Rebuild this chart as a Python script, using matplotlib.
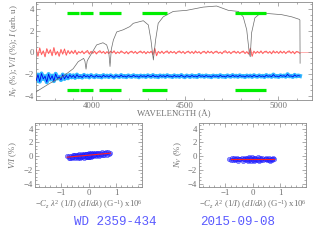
import numpy as np
import matplotlib
matplotlib.use("Agg")
import matplotlib.pyplot as plt
from matplotlib.ticker import MultipleLocator

plt.rcParams['font.family'] = ['Liberation Serif', 'DejaVu Serif']
plt.rcParams['mathtext.fontset'] = 'custom'
plt.rcParams['mathtext.rm'] = 'Liberation Serif'
plt.rcParams['mathtext.it'] = 'Liberation Serif:italic'

# ---------------- data ----------------
# intensity spectrum (arb. units)
spec_wl = [3694, 3774, 3846, 3899, 3926, 3955, 3962, 3968, 3974, 3980, 4025, 4059, 4079,
           4090, 4097, 4104, 4115, 4133, 4168, 4204, 4222, 4276, 4303, 4317, 4330, 4342,
           4356, 4383, 4437, 4509, 4598, 4670, 4733, 4787, 4813, 4832, 4846, 4851, 4858,
           4876, 4903, 4948, 5020, 5074, 5114, 5118, 5119]
spec_i = [-3.7, -2.85, -2.2, -1.5, -0.85, -0.55, -0.8, -1.55, -0.8, -0.6, 0.7, 0.9, 0.7,
          0.1, -1.3, 0.3, 1.15, 1.9, 2.1, 2.4, 2.7, 2.94, 2.55, 1.15, -0.7, 1.15,
          2.7, 3.3, 3.8, 3.9, 4.2, 4.3, 3.9, 3.8, 3.3, 2.1, -0.1, -0.4, 1.8,
          3.2, 3.6, 3.6, 3.5, 3.3, 3.07, 3.0, -1.0]

pol_wl_range = (3700, 5118)
# V/I (%)
vi = [0.30, -0.35, 0.42, -0.20, 0.15, -0.40, 0.35, -0.10, 0.25, -0.30, 0.45, -0.22, 0.10, -0.35, 0.28, -0.15, 0.32, -0.25, 0.18, -0.12,
      0.15, -0.10, 0.20, -0.18, 0.08, -0.05, 0.14, -0.12, 0.06, 0.18, -0.15, 0.10, -0.08, 0.12, -0.14, 0.05, 0.16, -0.06, 0.10, -0.12,
      0.08, -0.10, 0.12, -0.04, 0.15, -0.12, 0.06, -0.08, 0.14, 0.02, -0.10, 0.09, -0.13, 0.05, 0.12, -0.07, 0.10, -0.11, 0.04, 0.13,
      -0.06, 0.10, -0.12, 0.08, -0.05, 0.12, -0.20, 0.38, -0.30, 0.10, -0.08, 0.12, -0.10, 0.06, 0.14, -0.09, 0.11, -0.04, 0.09, -0.12,
      0.07, 0.13, -0.06, 0.10, -0.11, 0.05, 0.12, -0.08, 0.09, -0.10, 0.14, -0.05, 0.08, -0.12, 0.06, 0.11, -0.09, 0.13, -0.04, 0.10,
      -0.10, 0.07, 0.12, -0.08, 0.05, -0.12, 0.10, 0.15, -0.06, 0.09, -0.11, 0.06, 0.12, -0.07, 0.10, -0.09, 0.05, 0.13, -0.10, 0.08,
      -0.15, 0.40, -0.35, 0.12, -0.08, 0.10, -0.06, 0.14, -0.10, 0.08, 0.12, -0.07, 0.09, -0.12, 0.15, -0.05, 0.10, -0.09, 0.13, -0.06,
      0.11, -0.10, 0.08, 0.14, -0.07, 0.10, -0.12, 0.09, 0.05, -0.08]
# N_V (%) (plotted with offset)
nv = [-2.60, -2.05, -2.70, -1.95, -2.45, -2.20, -2.75, -2.00, -2.50, -2.15, -2.65, -1.98, -2.40, -2.25, -2.55, -2.05, -2.45, -2.12, -2.38, -2.08,
      -2.30, -2.12, -2.35, -2.05, -2.28, -2.18, -2.32, -2.08, -2.25, -2.15, -2.30, -2.10, -2.22, -2.28, -2.12, -2.25, -2.18, -2.30, -2.10, -2.24,
      -2.15, -2.27, -2.12, -2.22, -2.30, -2.14, -2.20, -2.26, -2.10, -2.24, -2.18, -2.28, -2.13, -2.21, -2.25, -2.11, -2.23, -2.17, -2.29, -2.14,
      -2.22, -2.16, -2.27, -2.12, -2.20, -2.25, -2.10, -2.24, -2.18, -2.28, -2.13, -2.22, -2.15, -2.26, -2.11, -2.21, -2.19, -2.27, -2.12, -2.23,
      -2.17, -2.25, -2.10, -2.22, -2.28, -2.14, -2.20, -2.26, -2.12, -2.23, -2.18, -2.27, -2.09, -2.21, -2.16, -2.25, -2.13, -2.22, -2.19, -2.28,
      -2.14, -2.21, -2.17, -2.26, -2.11, -2.23, -2.19, -2.27, -2.13, -2.20, -2.24, -2.10, -2.22, -2.16, -2.25, -2.12, -2.21, -2.18, -2.27, -2.14,
      -2.22, -2.15, -2.26, -2.11, -2.20, -2.24, -2.13, -2.22, -2.17, -2.27, -2.10, -2.21, -2.16, -2.25, -2.05, -2.22, -2.18, -2.26, -2.12, -2.20,
      -2.15, -2.24, -2.02, -2.20, -2.17, -2.26, -2.08, -2.21, -2.14, -2.18]

# Balmer line windows used for the fit (Å)
win_start = [3864, 3937, 4038, 4267, 4769]
win_end = [3928, 4007, 4154, 4405, 4934]
win_top_level = 3.7
win_bot_level = -3.5

# regression scatter: V/I vs derivative
vx = [-0.78, -0.72, -0.70, -0.66, -0.62, -0.60, -0.57, -0.55, -0.52, -0.50, -0.48, -0.45, -0.43, -0.40, -0.38, -0.36,
      -0.33, -0.31, -0.29, -0.27, -0.25, -0.22, -0.20, -0.18, -0.16, -0.14, -0.12, -0.10, -0.08, -0.06, -0.05, -0.03,
      -0.02, 0.00, 0.01, 0.03, 0.04, 0.06, 0.08, 0.10, 0.12, 0.14, 0.16, 0.18, 0.20, 0.22, 0.25, 0.27, 0.30, 0.33,
      0.36, 0.39, 0.42, 0.45, 0.48, 0.52, 0.55, 0.58, 0.62, 0.66, 0.70, 0.74, 0.78,
      -0.25, -0.15, -0.05, 0.05, 0.15, 0.25, -0.35, 0.35, -0.10, 0.10, -0.20, 0.20, 0.00, -0.45, 0.45, 0.60, -0.60]
vy = [-0.05, -0.30, -0.02, -0.25, 0.05, -0.28, 0.08, -0.20, 0.12, -0.30, 0.15, -0.15, 0.20, -0.25, 0.10, -0.08,
      0.25, -0.22, 0.18, -0.10, 0.28, -0.18, 0.12, -0.25, 0.30, -0.05, 0.22, -0.15, 0.35, -0.12, 0.25, -0.20,
      0.32, -0.08, 0.40, -0.15, 0.28, 0.00, 0.38, -0.10, 0.30, 0.02, 0.42, -0.05, 0.35, 0.08, 0.45, 0.00, 0.40, 0.10,
      0.48, 0.05, 0.45, 0.15, 0.52, 0.12, 0.50, 0.20, 0.55, 0.22, 0.58, 0.28, 0.50,
      0.05, 0.15, 0.00, 0.20, 0.10, 0.30, 0.00, 0.30, 0.30, 0.25, -0.05, 0.15, 0.20, -0.05, 0.35, 0.40, -0.10]
v_fit_slope = 0.37
v_fit_intercept = 0.12

# regression scatter: N_V vs derivative
nx = [-0.85, -0.80, -0.76, -0.72, -0.68, -0.64, -0.60, -0.56, -0.52, -0.48, -0.44, -0.40, -0.36, -0.32, -0.28,
      -0.24, -0.20, -0.17, -0.14, -0.11, -0.08, -0.05, -0.02, 0.01, 0.04, 0.07, 0.10, 0.13, 0.16, 0.20, 0.24,
      0.28, 0.32, 0.36, 0.40, 0.44, 0.48, 0.52, 0.56, 0.60, 0.64, 0.68, 0.72, 0.76, 0.80,
      -0.30, -0.10, 0.00, 0.10, 0.30, -0.50, 0.50, -0.20, 0.20, 0.60, -0.65, 0.70]
ny = [-0.40, -0.55, -0.35, -0.62, -0.30, -0.58, -0.42, -0.25, -0.65, -0.38, -0.50, -0.22, -0.70, -0.45, -0.28,
      -0.60, -0.35, -0.72, -0.20, -0.55, -0.40, -0.68, -0.18, -0.50, -0.30, -0.75, -0.25, -0.60, -0.42, -0.20, -0.66,
      -0.35, -0.55, -0.28, -0.62, -0.40, -0.25, -0.58, -0.45, -0.30, -0.65, -0.38, -0.52, -0.32, -0.48,
      -0.45, -0.35, -0.60, -0.45, -0.42, -0.48, -0.40, -0.50, -0.55, -0.55, -0.50, -0.45]
n_fit_slope = 0.0
n_fit_intercept = -0.45
fit_x_range = (-0.78, 0.80)

star_name = "WD 2359-434"
obs_date = "2015-09-08"

# ---------------- styling ----------------
W, H = 314, 240
axc = '#8a8a8a'
txc = '#707070'
fs = 6.3

fig = plt.figure(figsize=(W / 100, H / 100), dpi=100)


def px_axes(l, t, r, b):
    return fig.add_axes([l / W, 1 - b / H, (r - l) / W, (b - t) / H])


def style(ax, xmaj, xmin, ymaj, ymin):
    for s in ax.spines.values():
        s.set_color(axc)
        s.set_linewidth(0.6)
    ax.xaxis.set_major_locator(MultipleLocator(xmaj))
    ax.xaxis.set_minor_locator(MultipleLocator(xmin))
    ax.yaxis.set_major_locator(MultipleLocator(ymaj))
    ax.yaxis.set_minor_locator(MultipleLocator(ymin))
    ax.tick_params(which='both', direction='in', top=True, right=True, color=axc,
                   width=0.5, labelsize=fs, labelcolor=txc, pad=1.5)
    ax.tick_params(which='major', length=2.6)
    ax.tick_params(which='minor', length=1.3)


# top panel
ax = px_axes(36, 1.7, 312, 100)
wl = np.linspace(pol_wl_range[0], pol_wl_range[1], len(vi))
ax.axhline(0, color='#ff9090', lw=0.5, zorder=1)
ax.plot(wl, vi, color='#ffb8b8', lw=0.9, zorder=2)
ax.plot(wl, vi, color='#ff4848', lw=0.45, zorder=3)
ax.plot(wl, nv, color='#30b8ff', lw=3.0, zorder=2)
ax.plot(wl, nv, color='#0000ee', lw=0.6, zorder=3)
ax.plot(spec_wl, spec_i, color='#6a6a6a', lw=0.5, zorder=4)
ax.hlines([win_top_level] * len(win_start), win_start, win_end, color='#00ee00', lw=2.3, zorder=5)
ax.hlines([win_bot_level] * len(win_start), win_start, win_end, color='#00ee00', lw=2.3, zorder=5)
ax.set_xlim(3699, 5183)
ax.set_ylim(-4.4, 4.7)
style(ax, 500, 100, 2, 0.5)
ax.set_xlabel('WAVELENGTH (Å)', fontsize=fs, color=txc, labelpad=0)
ax.set_ylabel(r'$N_V$ (%); $V/I$ (%); $I$ (arb. u)', fontsize=fs, color=txc, labelpad=3)

# bottom-left panel
xlab = r'$-C_z\ \lambda^2\ (1/I)\ (dI/d\lambda)\ (\mathrm{G}^{-1})\ \mathrm{x10}^6$'
bl = px_axes(35, 123, 142, 187)
bl.plot(vx, vy, 'o', ms=3.2, mec='#1010ff', mfc='#3030ff', mew=0.4, alpha=0.55, zorder=2)
fx = np.array(fit_x_range)
bl.plot(fx, v_fit_slope * fx + v_fit_intercept, color='#ff2020', lw=0.8, zorder=3)
bl.set_xlim(-1.95, 1.95)
bl.set_ylim(-4.5, 4.8)
style(bl, 1, 0.2, 2, 0.5)
bl.set_xlabel(xlab, fontsize=fs, color=txc, labelpad=1)
bl.set_ylabel(r'$V/I$ (%)', fontsize=fs, color=txc, labelpad=3)

# bottom-right panel
br = px_axes(199, 123, 306, 187)
br.plot(nx, ny, 'o', ms=3.2, mec='#1010ff', mfc='#3030ff', mew=0.4, alpha=0.55, zorder=2)
br.plot(fx, n_fit_slope * fx + n_fit_intercept, color='#ff2020', lw=0.8, zorder=3)
br.set_xlim(-1.95, 1.95)
br.set_ylim(-4.5, 4.8)
style(br, 1, 0.2, 2, 0.5)
br.set_xlabel(xlab, fontsize=fs, color=txc, labelpad=1)
br.set_ylabel(r'$N_V$ (%)', fontsize=fs, color=txc, labelpad=3)

fig.text(115 / W, 1 - 222 / H, star_name, color='#5a5aff', fontsize=9,
         family='Liberation Mono', ha='center', va='center')
fig.text(238 / W, 1 - 222 / H, obs_date, color='#5a5aff', fontsize=9,
         family='Liberation Mono', ha='center', va='center')

fig.savefig('out.png', dpi=100)
